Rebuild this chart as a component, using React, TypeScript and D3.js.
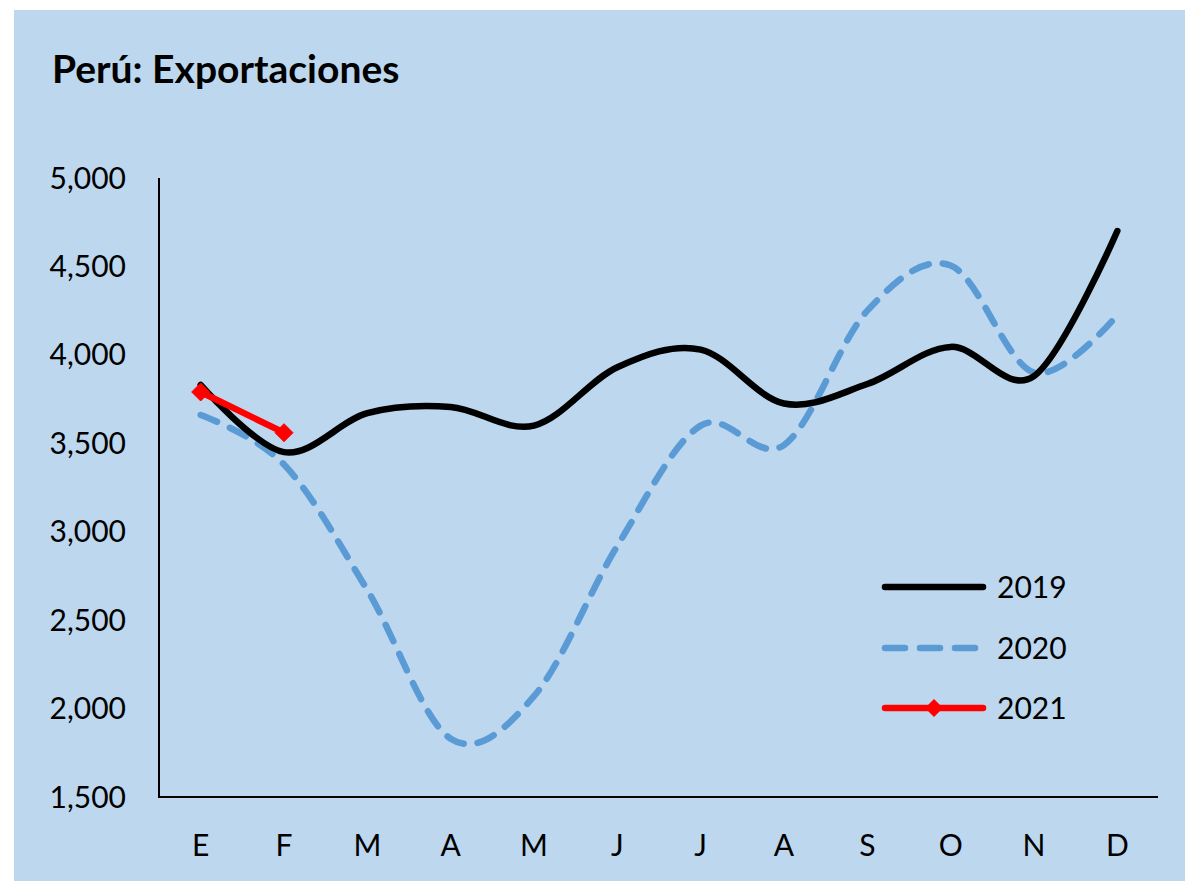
import * as d3 from "d3";

const months = ["E", "F", "M", "A", "M", "J", "J", "A", "S", "O", "N", "D"];
const yTicks = [1500, 2000, 2500, 3000, 3500, 4000, 4500, 5000];

const s2019 = [3830, 3450, 3670, 3705, 3600, 3930, 4030, 3725, 3835, 4045, 3880, 4700];
const s2020 = [3660, 3380, 2670, 1830, 2070, 2920, 3600, 3490, 4250, 4505, 3900, 4225];
const s2021 = [3790, 3560];

const W = 1192;
const H = 881;
const FONT = "Lato, 'Open Sans', sans-serif";

export default function App() {
  const x = d3.scaleBand<number>().domain(months.map((_, i) => i)).range([159, 1159]);
  const cx = (i: number) => (x(i) ?? 0) + x.bandwidth() / 2;
  const y = d3.scaleLinear().domain([1500, 5000]).range([797, 178]);

  const smooth = d3
    .line<number>()
    .x((_, i) => cx(i))
    .y((d) => y(d))
    .curve(d3.curveCardinal.tension(0));
  const straight = d3
    .line<number>()
    .x((_, i) => cx(i))
    .y((d) => y(d));

  const diamond = (px: number, py: number, r: number) =>
    `M${px},${py - r}L${px + r},${py}L${px},${py + r}L${px - r},${py}Z`;

  // legend
  const legend = [
    { label: "2019", y: 587 },
    { label: "2020", y: 648 },
    { label: "2021", y: 708 },
  ];

  return (
    <svg
      width={W}
      height={H}
      style={{ position: "absolute", left: 0, top: 0, display: "block" }}
    >
      <rect x={0} y={0} width={W} height={H} fill="#ffffff" />
      <rect x={14} y={10} width={1171} height={H - 10} fill="#BDD7EE" />

      <text x={52} y={83} fontFamily={FONT} fontWeight={700} fontSize={39} fill="#000">
        Perú: Exportaciones
      </text>

      {/* y axis */}
      <line x1={159} x2={159} y1={178} y2={798} stroke="#000" strokeWidth={2} />
      {yTicks.map((t) => (
        <text
          key={t}
          x={126}
          y={y(t)}
          dy="0.35em"
          textAnchor="end"
          fontFamily={FONT}
          fontSize={30}
          fill="#000"
        >
          {d3.format(",")(t)}
        </text>
      ))}

      {/* x axis */}
      <line x1={158} x2={1158} y1={797} y2={797} stroke="#000" strokeWidth={2} />
      {months.map((m, i) => (
        <text
          key={i}
          x={cx(i)}
          y={856}
          textAnchor="middle"
          fontFamily={FONT}
          fontSize={30}
          fill="#000"
        >
          {m}
        </text>
      ))}

      {/* series */}
      <path
        d={smooth(s2020) ?? ""}
        fill="none"
        stroke="#5B9BD5"
        strokeWidth={6.5}
        strokeDasharray="18 14"
        strokeLinecap="round"
      />
      <path
        d={smooth(s2019) ?? ""}
        fill="none"
        stroke="#000"
        strokeWidth={6.5}
        strokeLinecap="round"
        strokeLinejoin="round"
      />
      <path
        d={straight(s2021) ?? ""}
        fill="none"
        stroke="#FF0000"
        strokeWidth={6.5}
        strokeLinecap="round"
      />
      {s2021.map((v, i) => (
        <path key={i} d={diamond(cx(i), y(v), 9)} fill="#FF0000" stroke="#FF0000" strokeWidth={1} />
      ))}

      {/* legend */}
      <line x1={885} x2={983} y1={legend[0].y} y2={legend[0].y} stroke="#000" strokeWidth={6.5} strokeLinecap="round" />
      <line
        x1={885}
        x2={983}
        y1={legend[1].y}
        y2={legend[1].y}
        stroke="#5B9BD5"
        strokeWidth={6.5}
        strokeDasharray="20 15"
        strokeLinecap="round"
      />
      <line x1={885} x2={983} y1={legend[2].y} y2={legend[2].y} stroke="#FF0000" strokeWidth={6.5} strokeLinecap="round" />
      <path d={diamond(934, legend[2].y, 9)} fill="#FF0000" />
      {legend.map((l) => (
        <text
          key={l.label}
          x={997}
          y={l.y}
          dy="0.35em"
          fontFamily={FONT}
          fontSize={30}
          fill="#000"
        >
          {l.label}
        </text>
      ))}
    </svg>
  );
}
